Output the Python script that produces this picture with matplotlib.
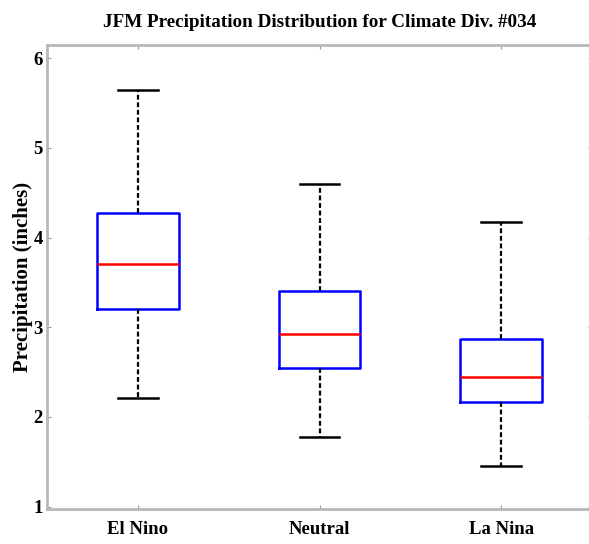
import matplotlib
matplotlib.use("Agg")
import matplotlib.pyplot as plt

categories = ["El Nino", "Neutral", "La Nina"]
whisker_low = [2.21, 1.78, 1.455]
q1 = [3.208, 2.551, 2.165]
median = [3.71, 2.923, 2.45]
q3 = [4.279, 3.409, 2.871]
whisker_high = [5.647, 4.595, 4.172]

plt.rcParams['font.family'] = ['Liberation Serif', 'DejaVu Serif']
plt.rcParams['font.weight'] = 'bold'

fig = plt.figure(figsize=(5.89, 5.44), dpi=100)
ax = fig.add_axes([47 / 589, 1 - 509 / 544, (592 - 47) / 589, (509 - 45) / 544])

stats = []
for i, name in enumerate(categories):
    stats.append({
        'label': name,
        'whislo': whisker_low[i],
        'q1': q1[i],
        'med': median[i],
        'q3': q3[i],
        'whishi': whisker_high[i],
        'fliers': [],
    })

ax.bxp(stats, positions=[1, 2, 3], widths=0.45, showfliers=False,
       boxprops=dict(color='#0000ff', linewidth=1.8),
       medianprops=dict(color='#ff0000', linewidth=1.8),
       whiskerprops=dict(color='black', linewidth=1.6, linestyle=(0, (2.2, 1.2))),
       capprops=dict(color='black', linewidth=1.8),
       capwidths=0.22)

ax.set_xlim(0.5, 3.5)
ax.set_ylim(0.974, 6.148)
ax.set_yticks([1, 2, 3, 4, 5, 6])
ax.set_xticks([1, 2, 3])
ax.set_xticklabels(categories)

for s in ax.spines.values():
    s.set_color('#b8b8b8')
    s.set_linewidth(2)

ax.tick_params(direction='in', length=3, width=0.8, color='#999999',
               top=True, right=True, labelsize=13.5)
ax.tick_params(axis='x', pad=9)
ax.tick_params(axis='y', pad=3)
for lab in ax.get_xticklabels() + ax.get_yticklabels():
    lab.set_fontweight('bold')

ax.set_ylabel("Precipitation (inches)", fontsize=15, fontweight='bold', labelpad=0.3)
ax.set_title("JFM Precipitation Distribution for Climate Div. #034",
             fontsize=13.8, fontweight='bold', pad=13)

fig.savefig("out.png", dpi=100)
